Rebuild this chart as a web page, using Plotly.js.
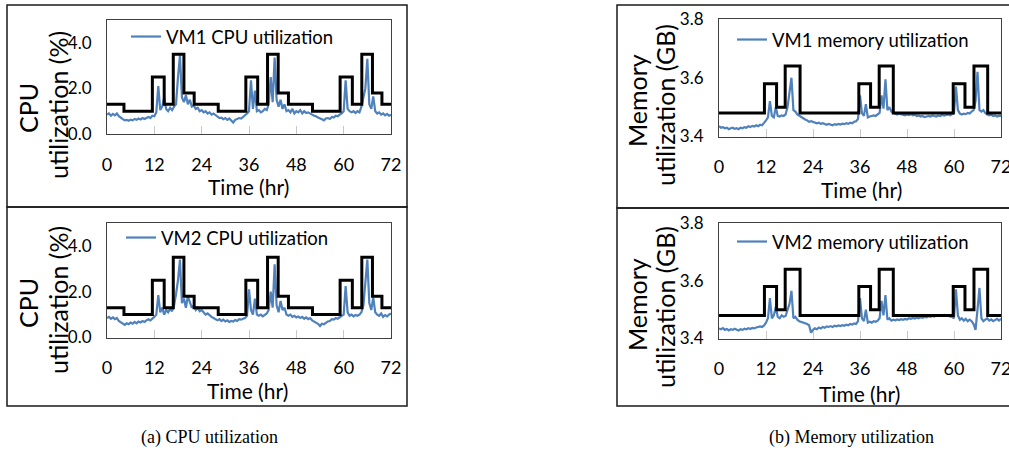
<!DOCTYPE html>
<html>
<head>
<meta charset="utf-8">
<script src="https://cdn.plot.ly/plotly-3.0.1.min.js"></script>
<style>html,body{margin:0;padding:0;background:#fff;}#chart{width:1009px;height:451px;}</style>
</head>
<body>
<div id="chart"></div>
<script>
// ---- data (sampled every 0.5 h, 0..72 h) ----
const cpuVM1 = [
  0.85,0.9,0.8,0.88,0.82,0.9,0.78,0.7,0.65,0.6,0.62,0.58,
  0.63,0.6,0.66,0.62,0.68,0.64,0.7,0.66,0.72,0.75,0.7,0.8,
  0.78,0.95,2.1,1.05,1.2,1.6,1.1,1.0,1.15,1.05,1.2,1.3,
  2.5,3.45,1.6,1.4,1.7,1.3,1.5,1.2,1.25,1.1,1.15,1.0,
  1.05,0.95,1.0,0.9,0.95,0.85,0.9,0.82,0.75,0.7,0.72,0.65,
  0.7,0.62,0.68,0.6,0.5,0.62,0.66,0.7,0.68,0.75,0.8,0.9,
  1.0,2.35,1.1,1.9,1.0,1.05,0.95,1.0,1.1,1.05,1.3,2.5,
  1.4,3.35,1.5,1.2,1.5,1.1,1.3,1.0,1.05,0.95,1.1,0.9,
  1.0,0.95,1.05,0.9,1.0,0.92,0.95,0.88,0.85,0.8,0.78,0.72,
  0.7,0.65,0.6,0.68,0.7,0.66,0.75,0.72,0.8,0.78,0.85,0.9,
  1.0,2.35,1.1,1.0,0.95,1.0,0.92,1.0,0.95,1.2,1.6,2.0,
  3.3,1.3,1.1,1.65,1.0,0.9,0.95,0.85,0.9,0.82,0.88,0.8,
  0.85
];
const cpuVM2 = [
  0.85,0.9,0.82,0.88,0.8,0.85,0.72,0.65,0.6,0.55,0.62,0.58,
  0.65,0.6,0.68,0.62,0.7,0.66,0.72,0.68,0.75,0.8,0.75,0.85,
  0.9,1.0,1.85,1.1,1.3,1.0,1.2,1.1,1.25,1.15,1.4,1.9,
  2.5,3.4,1.5,1.7,1.3,1.8,1.5,1.3,1.4,1.2,1.3,1.15,
  1.2,1.1,1.0,1.05,0.95,0.9,0.85,0.8,0.75,0.8,0.72,0.78,
  0.7,0.75,0.68,0.72,0.7,0.76,0.72,0.8,0.78,0.82,0.85,0.95,
  2.1,1.2,1.0,1.7,1.0,0.95,1.0,0.92,0.98,1.05,1.2,2.0,
  1.3,3.2,1.4,1.1,1.6,1.2,1.3,1.0,0.95,1.0,0.9,0.95,
  0.88,0.92,0.85,0.9,0.82,0.88,0.8,0.85,0.75,0.7,0.65,0.6,
  0.5,0.6,0.58,0.65,0.7,0.72,0.8,0.78,0.85,0.82,0.9,0.95,
  1.0,2.25,1.1,0.95,1.0,0.92,0.98,0.95,1.0,1.1,1.4,2.4,
  3.4,1.5,1.2,1.75,1.1,1.0,0.95,1.05,0.9,0.98,0.92,1.0,
  1.05
];
const memVM1 = [
  3.435,3.43,3.432,3.428,3.43,3.425,3.428,3.43,3.426,3.428,3.425,3.43,
  3.428,3.432,3.43,3.435,3.432,3.436,3.434,3.438,3.435,3.44,3.438,3.445,
  3.455,3.465,3.52,3.47,3.465,3.5,3.47,3.468,3.472,3.47,3.475,3.5,
  3.55,3.60,3.49,3.485,3.475,3.47,3.465,3.46,3.458,3.455,3.45,3.452,
  3.45,3.448,3.445,3.447,3.443,3.445,3.442,3.44,3.443,3.44,3.438,3.442,
  3.44,3.443,3.441,3.444,3.442,3.445,3.443,3.447,3.445,3.45,3.452,3.46,
  3.54,3.48,3.47,3.51,3.465,3.468,3.47,3.472,3.47,3.475,3.48,3.54,
  3.495,3.595,3.49,3.5,3.485,3.48,3.478,3.475,3.478,3.476,3.475,3.472,
  3.475,3.473,3.476,3.472,3.474,3.47,3.472,3.468,3.47,3.466,3.468,3.47,
  3.468,3.472,3.47,3.468,3.472,3.47,3.474,3.471,3.473,3.475,3.472,3.475,
  3.48,3.57,3.49,3.478,3.475,3.478,3.476,3.48,3.478,3.485,3.49,3.52,
  3.62,3.49,3.485,3.49,3.48,3.475,3.472,3.474,3.47,3.472,3.468,3.47,
  3.47
];
const memVM2 = [
  3.435,3.432,3.436,3.43,3.433,3.428,3.432,3.43,3.434,3.43,3.428,3.432,
  3.43,3.434,3.432,3.436,3.433,3.437,3.435,3.438,3.44,3.442,3.44,3.445,
  3.455,3.47,3.54,3.47,3.48,3.51,3.475,3.47,3.48,3.475,3.478,3.5,
  3.52,3.565,3.47,3.475,3.465,3.46,3.458,3.455,3.452,3.45,3.446,3.42,
  3.43,3.435,3.432,3.438,3.435,3.44,3.437,3.442,3.44,3.443,3.44,3.444,
  3.442,3.445,3.443,3.446,3.444,3.448,3.446,3.45,3.448,3.452,3.45,3.46,
  3.54,3.47,3.46,3.5,3.455,3.458,3.455,3.46,3.458,3.462,3.47,3.53,
  3.48,3.55,3.465,3.47,3.462,3.465,3.463,3.466,3.464,3.467,3.465,3.468,
  3.466,3.47,3.468,3.471,3.469,3.472,3.47,3.474,3.472,3.475,3.473,3.477,
  3.475,3.478,3.476,3.48,3.478,3.481,3.479,3.482,3.48,3.478,3.476,3.475,
  3.47,3.57,3.48,3.465,3.47,3.462,3.468,3.46,3.465,3.46,3.45,3.43,
  3.5,3.575,3.47,3.46,3.465,3.47,3.462,3.466,3.46,3.465,3.468,3.462,
  3.468
];
// step (allocation) curves: change points (hr) and levels
const cpuStepHours = [0,4.3,11.5,14.5,16.8,19.5,22.1,28.2,35.2,38.2,40.7,43.4,46,52.1,59.1,62.2,64.6,67.3,69.7,72];
const cpuStepLevels = [1.3,1.0,2.5,1.3,3.5,1.8,1.3,1.0,2.5,1.3,3.5,1.8,1.3,1.0,2.5,1.3,3.5,1.8,1.3,1.3];
const memStepHours = [0,11.6,14.7,16.9,20.7,35.7,38.7,40.9,44.5,59.8,62.8,65.1,68.6,72];
const memStepLevels = [3.48,3.58,3.50,3.64,3.48,3.58,3.50,3.64,3.48,3.58,3.50,3.64,3.48,3.48];
const xTicks = [0,12,24,36,48,60,72];
const cpuTicks = [0,2,4];
const memTicks = [3.4,3.6,3.8];
const seriesNames = ['VM1 CPU utilization','VM2 CPU utilization','VM1 memory utilization','VM2 memory utilization'];
const cpuTitleLines = ['CPU','utilization (%)'];
const memTitleLines = ['Memory','utilization (GB)'];
const xTitle = 'Time (hr)';
const captions = ['(a) CPU utilization','(b) Memory utilization'];

const hours = cpuVM1.map((_, i) => i * 0.5);

// ---- layout helpers ----
const W = 1009, H = 451;
const px = v => v / W;
const py = v => 1 - v / H;
const BLUE = '#4f81bd';
const FONT = 'Lato, "Open Sans", sans-serif';

function blue(y, xa, ya, name, leg) {
  return {x: hours, y: y, xaxis: xa, yaxis: ya, type: 'scatter', mode: 'lines', name: name,
          legend: leg, line: {color: BLUE, width: 2.2}, hoverinfo: 'skip'};
}
function step(xs, ys, xa, ya) {
  return {x: xs, y: ys, xaxis: xa, yaxis: ya, type: 'scatter', mode: 'lines', showlegend: false,
          line: {color: '#000', width: 3, shape: 'hv'}, hoverinfo: 'skip'};
}

const data = [
  blue(cpuVM1, 'x', 'y', seriesNames[0], 'legend'),
  blue(cpuVM2, 'x2', 'y2', seriesNames[1], 'legend2'),
  blue(memVM1, 'x3', 'y3', seriesNames[2], 'legend3'),
  blue(memVM2, 'x4', 'y4', seriesNames[3], 'legend4'),
  step(cpuStepHours, cpuStepLevels, 'x', 'y'),
  step(cpuStepHours, cpuStepLevels, 'x2', 'y2'),
  step(memStepHours, memStepLevels, 'x3', 'y3'),
  step(memStepHours, memStepLevels, 'x4', 'y4')
];

function xax(domain, anchor) {
  return {domain: domain, anchor: anchor, range: [0, 72], tickvals: xTicks, ticks: 'inside', ticklen: 8,
          tickcolor: '#c8c8c8', tickwidth: 1, showgrid: false, zeroline: false, showline: true, mirror: true,
          linecolor: '#404040', linewidth: 1, ticklabelstandoff: 14, ticklabeloverflow: 'allow',
          tickfont: {family: FONT, size: 18, color: '#000'}, fixedrange: true};
}
function yax(domain, anchor, range, ticks, fmt) {
  return {domain: domain, anchor: anchor, range: range, tickvals: ticks, tickformat: fmt, ticks: '',
          showgrid: false, zeroline: false, showline: true, mirror: true, linecolor: '#404040', linewidth: 1,
          ticklabelstandoff: 11, ticklabeloverflow: 'allow',
          tickfont: {family: FONT, size: 17, color: '#000'}, fixedrange: true};
}

const leftX = [px(107), px(391)];
const rightX = [px(719), px(1001)];

function legend(xpix, ypix) {
  return {x: px(xpix), y: py(ypix), xref: 'paper', yref: 'paper', xanchor: 'left', yanchor: 'middle',
          bgcolor: 'rgba(0,0,0,0)', borderwidth: 0, itemwidth: 30,
          font: {family: FONT, size: 18.5, color: '#000'}};
}

function ytitle(text, xpix, ypix) {
  return {text: text, x: px(xpix), y: py(ypix), xref: 'paper', yref: 'paper', showarrow: false,
          textangle: -90, xanchor: 'center', yanchor: 'middle',
          font: {family: FONT, size: 25, color: '#000'}};
}
function xtitle(xpix, ypix) {
  return {text: xTitle, x: px(xpix), y: py(ypix), xref: 'paper', yref: 'paper', showarrow: false,
          xanchor: 'center', yanchor: 'middle', font: {family: FONT, size: 21, color: '#000'}};
}
function caption(text, xpix, ypix) {
  return {text: text, x: px(xpix), y: py(ypix), xref: 'paper', yref: 'paper', showarrow: false,
          xanchor: 'center', yanchor: 'middle',
          font: {family: '"Liberation Serif", "DejaVu Serif", serif', size: 18, color: '#000'}};
}
function box(x0, y0, x1, y1) {
  return {type: 'rect', xref: 'paper', yref: 'paper', x0: px(x0), x1: px(x1), y0: py(y1), y1: py(y0),
          line: {color: '#1a1a1a', width: 1.5}, fillcolor: 'rgba(0,0,0,0)', layer: 'below'};
}

const layout = {
  width: W, height: H, margin: {l: 0, r: 0, t: 0, b: 0}, paper_bgcolor: '#fff', plot_bgcolor: '#fff',
  showlegend: true,
  xaxis: xax(leftX, 'y'),
  yaxis: yax([py(134), py(20)], 'x', [0, 5], cpuTicks, '.1f'),
  xaxis2: xax(leftX, 'y2'),
  yaxis2: yax([py(337.5), py(223)], 'x2', [0, 5], cpuTicks, '.1f'),
  xaxis3: xax(rightX, 'y3'),
  yaxis3: yax([py(136.5), py(19)], 'x3', [3.4, 3.8], memTicks, '.1f'),
  xaxis4: xax(rightX, 'y4'),
  yaxis4: yax([py(338.5), py(223)], 'x4', [3.4, 3.8], memTicks, '.1f'),
  legend: legend(126, 37),
  legend2: legend(121, 238),
  legend3: legend(732, 40),
  legend4: legend(732, 242),
  shapes: [
    box(7, 5, 407, 207), box(7, 207, 407, 406),
    box(617, 5, 1015, 208), box(617, 208, 1015, 406)
  ],
  annotations: [
    ytitle(cpuTitleLines[0], 28, 108), ytitle(cpuTitleLines[1], 58, 105),
    ytitle(cpuTitleLines[0], 28, 303), ytitle(cpuTitleLines[1], 58, 300),
    ytitle(memTitleLines[0], 637, 101), ytitle(memTitleLines[1], 665, 105),
    ytitle(memTitleLines[0], 637, 305), ytitle(memTitleLines[1], 665, 307),
    xtitle(248, 187), xtitle(247, 390), xtitle(861, 189), xtitle(859, 393),
    caption(captions[0], 209, 437), caption(captions[1], 851, 437)
  ]
};

Plotly.newPlot('chart', data, layout, {staticPlot: true, displayModeBar: false});
</script>
</body>
</html>
